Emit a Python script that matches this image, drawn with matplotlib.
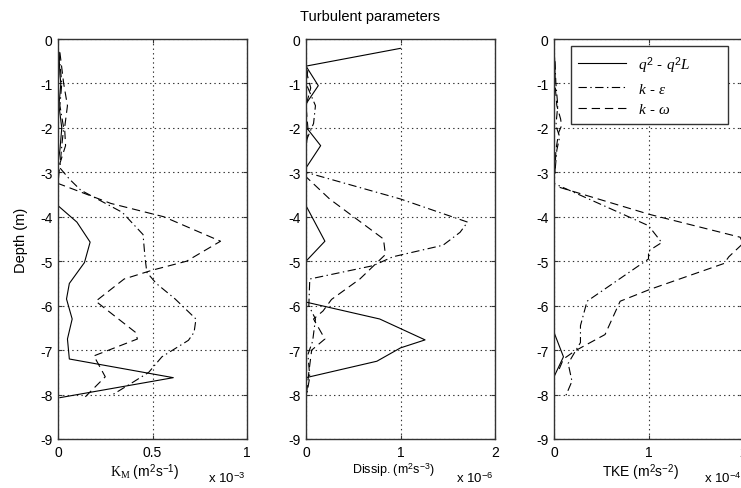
import matplotlib
matplotlib.use('Agg')
from matplotlib import pyplot as plt

plt.rcParams['font.family'] = ['Liberation Sans', 'DejaVu Sans']
plt.rcParams['axes.unicode_minus'] = False
plt.rcParams['lines.scale_dashes'] = False
plt.rcParams['mathtext.fontset'] = 'custom'
plt.rcParams['mathtext.rm'] = 'Liberation Sans'
plt.rcParams['mathtext.sf'] = 'Liberation Sans'
plt.rcParams['mathtext.it'] = 'Liberation Serif:italic'
plt.rcParams['mathtext.bf'] = 'Liberation Serif'

# ---- data (x in units of the axis multiplier) ----
labels = [r'$q^2$ - $q^2L$', r'$k$ - $\varepsilon$', r'$k$ - $\omega$']

# K_M  (x 1e-3 m2/s)
km_q2_z = [-0.3, -0.8, -1.0, -1.5, -2.0, -2.5, -2.8, -3.75, -4.12, -4.57, -5.03,
           -5.5, -5.85, -6.3, -6.75, -7.2, -7.62, -8.07]
km_q2 = [0.005, 0.01, 0.015, 0.005, 0.02, 0.01, 0.0, 0.0, 0.1, 0.17, 0.14,
         0.06, 0.045, 0.075, 0.05, 0.06, 0.61, 0.01]
km_ke_z = [-0.3, -1.0, -1.5, -2.0, -2.4, -2.9, -3.15, -3.4, -3.9, -4.4, -4.9,
           -5.25, -5.5, -5.85, -6.3, -6.6, -6.78, -7.15, -7.5, -7.74, -8.0]
km_ke = [0.005, 0.02, 0.01, 0.03, 0.02, 0.01, 0.06, 0.12, 0.34, 0.45, 0.46,
         0.47, 0.52, 0.62, 0.73, 0.72, 0.69, 0.55, 0.48, 0.39, 0.29]
km_kw_z = [-0.3, -1.0, -1.5, -2.0, -2.4, -2.8, -3.25, -3.7, -4.0, -4.55, -5.0,
           -5.2, -5.4, -5.9, -6.6, -6.75, -7.13, -7.6, -8.07]
km_kw = [0.01, 0.03, 0.05, 0.035, 0.04, 0.01, 0.0, 0.28, 0.56, 0.86, 0.68,
         0.5, 0.35, 0.2, 0.41, 0.42, 0.19, 0.25, 0.14]

# Dissipation  (x 1e-6 m2/s3)
eps_q2_z = [-0.21, -0.61, -1.05, -1.46, -1.98, -2.4, -2.9, -3.75, -4.55, -5.0,
            -5.92, -6.3, -6.77, -6.95, -7.25, -7.62, -8.1]
eps_q2 = [1.0, 0.0, 0.13, 0.0, 0.0, 0.155, 0.0, 0.0, 0.2, 0.0,
          0.0, 0.78, 1.26, 1.0, 0.75, 0.0, 0.0]
eps_ke_z = [-0.7, -1.0, -1.5, -1.9, -2.3, -3.0, -3.6, -4.12, -4.35, -4.64, -4.9,
            -5.1, -5.4, -6.0, -6.3, -6.8, -7.1, -7.6, -8.1]
eps_ke = [0.02, 0.0, 0.1, 0.08, 0.0, 0.0, 1.0, 1.71, 1.63, 1.45, 0.92,
          0.71, 0.04, 0.03, 0.1, 0.07, 0.02, 0.04, 0.0]
eps_kw_z = [-0.7, -1.1, -1.5, -2.0, -2.5, -3.1, -3.6, -4.5, -4.85, -5.4, -5.86,
            -6.12, -6.3, -6.75, -7.0, -7.5, -8.1]
eps_kw = [0.0, 0.05, 0.0, 0.02, 0.0, 0.0, 0.25, 0.82, 0.84, 0.57, 0.27,
          0.18, 0.08, 0.2, 0.06, 0.03, 0.0]

# TKE  (x 1e-4 m2/s2)
tke_q2_z = [-0.2, -0.6, -0.9, -1.2, -6.6, -7.15, -7.6]
tke_q2 = [0.0, 0.01, 0.01, 0.0, 0.0, 0.1, 0.0]
tke_ke_z = [-0.5, -1.0, -1.5, -1.95, -2.2, -2.5, -3.0, -3.25, -4.2, -4.58, -4.77,
            -4.95, -5.9, -6.45, -6.83, -7.3, -7.7, -8.05]
tke_ke = [0.01, 0.02, 0.04, 0.02, 0.06, 0.03, 0.01, 0.0, 1.0, 1.14, 1.0,
          1.0, 0.35, 0.28, 0.28, 0.15, 0.19, 0.12]
tke_kw_z = [-0.5, -1.0, -1.5, -1.8, -1.95, -2.1, -2.5, -3.0, -3.3, -3.94, -4.46,
            -4.6, -4.9, -5.05, -5.63, -5.9, -6.65, -7.02, -7.2, -7.5]
tke_kw = [0.005, 0.01, 0.03, 0.07, 0.08, 0.05, 0.02, 0.01, 0.0, 1.0, 1.97,
          2.0, 1.85, 1.8, 1.02, 0.7, 0.54, 0.22, 0.1, 0.04]

panels = [
    dict(series=[(km_q2, km_q2_z), (km_ke, km_ke_z), (km_kw, km_kw_z)],
         xmax=1, xticks=[0, 0.5, 1], xticklabels=['0', '0.5', '1'],
         xlabel=r'$\mathbf{K_M}$ (m$^2$s$^{-1}$)', xlfs=10, mult='x 10$^{-3}$'),
    dict(series=[(eps_q2, eps_q2_z), (eps_ke, eps_ke_z), (eps_kw, eps_kw_z)],
         xmax=2, xticks=[0, 1, 2], xticklabels=['0', '1', '2'],
         xlabel='Dissip. (m$^2$s$^{-3}$)', xlfs=9, mult='x 10$^{-6}$'),
    dict(series=[(tke_q2, tke_q2_z), (tke_ke, tke_ke_z), (tke_kw, tke_kw_z)],
         xmax=2, xticks=[0, 1, 2], xticklabels=['0', '1', '2'],
         xlabel='TKE (m$^2$s$^{-2}$)', xlfs=10, mult='x 10$^{-4}$'),
]

styles = ['-', (0, (6, 2.5, 1, 2.5)), (0, (6, 3.5))]

W, H = 741, 489
fig = plt.figure(figsize=(W / 100, H / 100), dpi=100)
lefts = [58, 306, 554]

for i, p in enumerate(panels):
    ax = fig.add_axes([lefts[i] / W, 49 / H, 189 / W, 400 / H])
    for (x, z), ls, lab in zip(p['series'], styles, labels):
        ax.plot(x, z, color='k', lw=0.8, linestyle=ls, label=lab)
    ax.set_xlim(0, p['xmax'])
    ax.set_ylim(-9, 0)
    ax.set_xticks(p['xticks'])
    ax.set_xticklabels(p['xticklabels'])
    ax.set_yticks(range(-9, 1))
    ax.tick_params(direction='in', length=3, top=True, right=True,
                   labelsize=10, color='#333333', pad=4)
    for s in ax.spines.values():
        s.set_linewidth(1.0)
        s.set_color('#333333')
    ax.grid(True, color='#333333', linestyle=(0, (1, 2.3)), linewidth=0.8)
    ax.set_xlabel(p['xlabel'], fontsize=p['xlfs'])
    ax.xaxis.set_label_coords(0.46, -0.055)
    ax.text(0.795, -0.097, p['mult'], transform=ax.transAxes,
            fontsize=9.5, ha='left', va='center')
    if i == 0:
        ax.set_ylabel('Depth (m)', fontsize=10.5)
        ax.yaxis.set_label_coords(-0.16, 0.5)
    if i == 2:
        # MATLAB-style legend box, wider than its text
        leg = ax.legend(loc='upper left', bbox_to_anchor=(0.088, 0.787, 0.833, 0.195),
                        mode='expand', borderaxespad=0, fancybox=False, framealpha=1,
                        edgecolor='#333333', fontsize=11, handlelength=3.1,
                        labelspacing=0.45, borderpad=0.5)
        leg.get_frame().set_linewidth(1.0)

fig.text(370 / W, 1 - 17 / H, 'Turbulent parameters', ha='center', va='center',
         fontsize=10.5)

plt.savefig('out.png', dpi=100)
plt.close(fig)
